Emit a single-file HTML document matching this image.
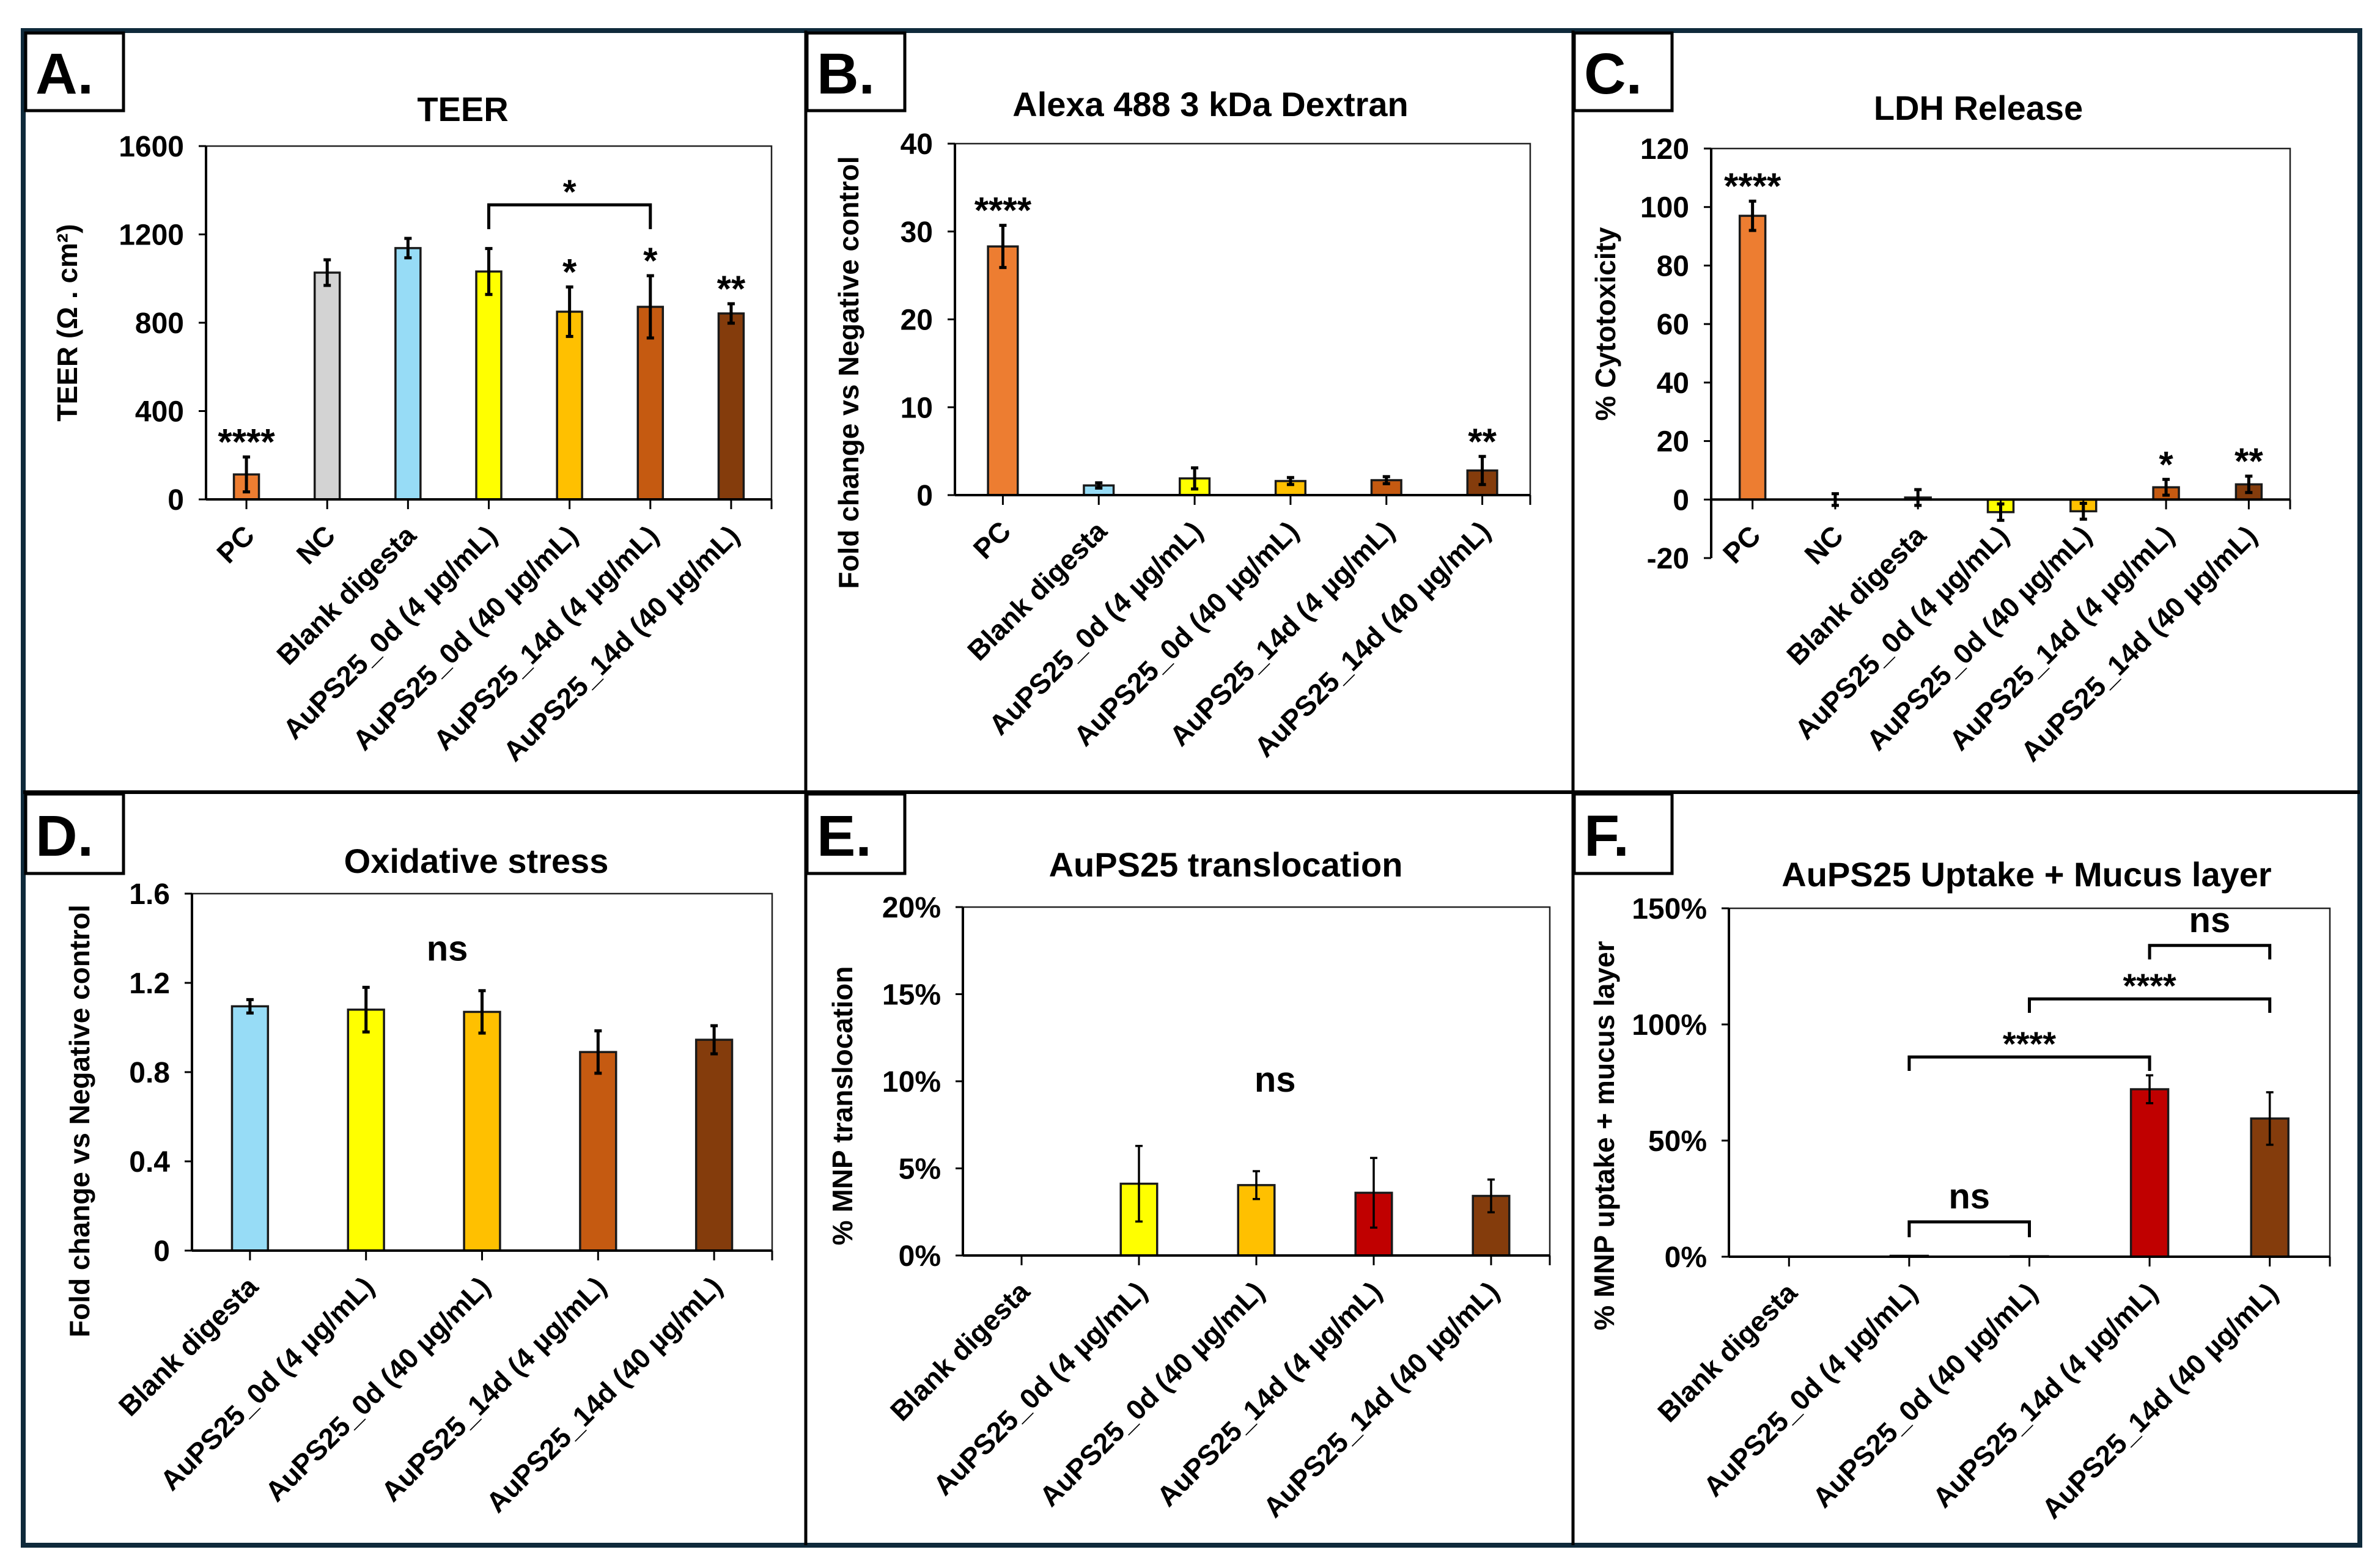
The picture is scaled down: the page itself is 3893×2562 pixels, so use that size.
<!DOCTYPE html>
<html><head><meta charset="utf-8"><title>Barrier integrity panels</title>
<style>
html,body{margin:0;padding:0;background:#fff;}
svg{display:block;font-family:"Liberation Sans",Arial,sans-serif;font-weight:bold;}
</style></head>
<body>
<svg id="fig" xmlns="http://www.w3.org/2000/svg" width="3893" height="2562" viewBox="0 0 3893 2562">
<rect x="0" y="0" width="3893" height="2562" fill="#fff"/>
<g>
<rect x="38" y="50" width="3822" height="2478" fill="none" stroke="#0f2a3b" stroke-width="8"/>
<line x1="1318" y1="50" x2="1318" y2="2528" stroke="#000" stroke-width="5"/>
<line x1="2573" y1="50" x2="2573" y2="2528" stroke="#000" stroke-width="5"/>
<line x1="38" y1="1296" x2="3860" y2="1296" stroke="#000" stroke-width="6"/>
</g>
<g font-size="95">
<g><rect x="42" y="54" width="160" height="127" fill="#fff" stroke="#000" stroke-width="5"/><text x="58" y="153">A.</text></g>
<g><rect x="1320" y="54" width="160" height="127" fill="#fff" stroke="#000" stroke-width="5"/><text x="1336" y="153">B.</text></g>
<g><rect x="2575" y="54" width="160" height="127" fill="#fff" stroke="#000" stroke-width="5"/><text x="2591" y="153">C.</text></g>
<g><rect x="42" y="1299" width="160" height="130" fill="#fff" stroke="#000" stroke-width="5"/><text x="58" y="1400">D.</text></g>
<g><rect x="1320" y="1299" width="160" height="130" fill="#fff" stroke="#000" stroke-width="5"/><text x="1336" y="1400">E.</text></g>
<g><rect x="2575" y="1299" width="160" height="130" fill="#fff" stroke="#000" stroke-width="5"/><text x="2591" y="1400">F.</text></g>
</g>
</svg>
<script>
// ---------- Panel A: TEER ----------
const A_categories = ['PC','NC','Blank digesta','AuPS25_0d (4 µg/mL)','AuPS25_0d (40 µg/mL)','AuPS25_14d (4 µg/mL)','AuPS25_14d (40 µg/mL)'];
const A_values = [113,1027,1138,1032,850,872,842];
const A_errors = [79,58,44,104,112,141,44];
const A_stars = ['****','','','','*','*','**'];
const A_ticks = [0,400,800,1200,1600];
const A_tickLabels = ['0','400','800','1200','1600'];
const A_brackets = [[3,5,1334,1224,'*']];
// ---------- Panel B: Dextran ----------
const B_categories = ['PC','Blank digesta','AuPS25_0d (4 µg/mL)','AuPS25_0d (40 µg/mL)','AuPS25_14d (4 µg/mL)','AuPS25_14d (40 µg/mL)'];
const B_values = [28.3,1.1,1.9,1.6,1.7,2.8];
const B_errors = [2.4,0.3,1.2,0.4,0.4,1.6];
const B_stars = ['****','','','','','**'];
const B_ticks = [0,10,20,30,40];
const B_tickLabels = ['0','10','20','30','40'];
// ---------- Panel C: LDH ----------
const C_categories = ['PC','NC','Blank digesta','AuPS25_0d (4 µg/mL)','AuPS25_0d (40 µg/mL)','AuPS25_14d (4 µg/mL)','AuPS25_14d (40 µg/mL)'];
const C_values = [97,0,0.7,-4.3,-4,4.2,5.2];
const C_errors = [5,2,2.7,2.8,2.7,2.7,2.8];
const C_stars = ['****','','','','','*','**'];
const C_ticks = [-20,0,20,40,60,80,100,120];
const C_tickLabels = ['-20','0','20','40','60','80','100','120'];
// ---------- Panel D: Oxidative stress ----------
const D_categories = ['Blank digesta','AuPS25_0d (4 µg/mL)','AuPS25_0d (40 µg/mL)','AuPS25_14d (4 µg/mL)','AuPS25_14d (40 µg/mL)'];
const D_values = [1.095,1.08,1.07,0.89,0.945];
const D_errors = [0.03,0.1,0.095,0.095,0.063];
const D_ticks = [0,0.4,0.8,1.2,1.6];
const D_tickLabels = ['0','0.4','0.8','1.2','1.6'];
// ---------- Panel E: translocation ----------
const E_categories = ['Blank digesta','AuPS25_0d (4 µg/mL)','AuPS25_0d (40 µg/mL)','AuPS25_14d (4 µg/mL)','AuPS25_14d (40 µg/mL)'];
const E_values = [0,4.12,4.04,3.6,3.42];
const E_errors = [0,2.17,0.8,2.0,0.94];
const E_ticks = [0,5,10,15,20];
const E_tickLabels = ['0%','5%','10%','15%','20%'];
// ---------- Panel F: uptake ----------
const F_categories = ['Blank digesta','AuPS25_0d (4 µg/mL)','AuPS25_0d (40 µg/mL)','AuPS25_14d (4 µg/mL)','AuPS25_14d (40 µg/mL)'];
const F_values = [0,0.4,0.2,72.1,59.5];
const F_errors = [0,0,0,6,11.3];
const F_ticks = [0,50,100,150];
const F_tickLabels = ['0%','50%','100%','150%'];
const F_brackets = [[1,2,15,8.4,'ns'],[1,3,86,80,'****'],[2,4,111,105,'****'],[3,4,134,128,'ns']];

const NS='http://www.w3.org/2000/svg';
const svg=document.getElementById('fig');
function mk(tag,attrs,parent){const e=document.createElementNS(NS,tag);for(const k in attrs)e.setAttribute(k,attrs[k]);parent.appendChild(e);return e;}

function drawChart(c){
  const g=mk('g',{},svg);
  
  
  const n=c.cats.length, bw=(c.x1-c.x0)/n;
  const xs=i=>c.x0+(i+0.5)*bw;
  const ys=v=>c.yb+(v-c.ymin)/(c.ymax-c.ymin)*(c.yt-c.yb);
  const y0=ys(0);
  const t=mk('text',{x:c.titleX,y:c.titleY,'text-anchor':'middle','font-size':c.titleSize||56},g);
  t.textContent=c.title;
  
  
  const yt=mk('text',{transform:`translate(${c.ytX},${(c.yt+c.yb)/2+(c.ytDy||0)}) rotate(-90)`,'text-anchor':'middle','font-size':c.ytSize||46},g);
  yt.textContent=c.ytitle;
  
  
  const fr=mk('polyline',{points:`${c.x0},${c.yt} ${c.x1},${c.yt} ${c.x1},${y0+14}`,fill:'none',stroke:'#222','stroke-width':2.5},g);
  
  
  const ya=mk('line',{x1:c.x0,y1:c.yt,x2:c.x0,y2:ys(c.ymin),stroke:'#000','stroke-width':4},g);
  
  
  c.ticks.forEach((tv,i)=>{
    const y=ys(tv);
    const tk=mk('line',{x1:c.x0-12,y1:y,x2:c.x0,y2:y,stroke:'#000','stroke-width':3},g);
    
    
    const tl=mk('text',{x:c.x0-36,y:y+17,'text-anchor':'end','font-size':48},g);
    tl.textContent=c.tickLabels[i];
    
    
  });
  c.vals.forEach((v,i)=>{
    const x=xs(i), w=bw*0.31;
    if(Math.abs(ys(v)-y0)>0.5){
      const r=mk('rect',{x:x-w/2,y:Math.min(ys(v),y0),width:w,height:Math.abs(ys(v)-y0),fill:c.colors[i],stroke:'#1a1a1a','stroke-width':3.5},g);
      
      
    }
    const e=c.errs[i];
    if(e>0){
      const eg=mk('g',{stroke:'#000','stroke-width':c.ew||5},g);
      
      
      mk('line',{x1:x,y1:ys(v-e),x2:x,y2:ys(v+e)},eg);
      mk('line',{x1:x-6,y1:ys(v-e),x2:x+6,y2:ys(v-e)},eg);
      mk('line',{x1:x-6,y1:ys(v+e),x2:x+6,y2:ys(v+e)},eg);
    }
    if(c.stars && c.stars[i]){
      const s=mk('text',{x:x,y:ys(v+e)-4,'text-anchor':'middle','font-size':60},g);
      s.textContent=c.stars[i];
      
      
    }
  });
  const xa=mk('line',{x1:c.x0,y1:y0,x2:c.x1,y2:y0,stroke:'#000','stroke-width':4},g);
  
  
  for(let i=0;i<=n;i++){
    const xx=i<n?xs(i):c.x1;
    const tk=mk('line',{x1:xx,y1:y0,x2:xx,y2:y0+16,stroke:'#000','stroke-width':3},g);
    
    
  }
  c.cats.forEach((cat,i)=>{
    const lx=xs(i)+16, ly=y0+62;
    const tl=mk('text',{transform:`translate(${lx},${ly}) rotate(-45)`,'text-anchor':'end','font-size':46},g);
    tl.textContent=cat;
    
    
  });
  (c.brackets||[]).forEach(b=>{
    const xa1=xs(b[0]), xb1=xs(b[1]), yt2=ys(b[2]), yl=ys(b[3]);
    const p=mk('polyline',{points:`${xa1},${yl} ${xa1},${yt2} ${xb1},${yt2} ${xb1},${yl}`,fill:'none',stroke:'#000','stroke-width':5},g);
    
    
    const tx=mk('text',{x:(xa1+xb1)/2,y:yt2-(b[4]==='ns'?22:2),'text-anchor':'middle','font-size':b[4]==='ns'?58:56},g);
    tx.textContent=b[4];
    
    
  });
  (c.notes||[]).forEach(nt=>{
    const tx=mk('text',{x:xs(nt[0]),y:ys(nt[1]),'text-anchor':'middle','font-size':58},g);
    tx.textContent=nt[2];
    
    
  });
}
const ORG='#ED7D31',GRY='#D3D3D3',BLU='#97DCF6',YEL='#FFFF00',AMB='#FFC000',RST='#C55A11',BRN='#843C0C',RED='#C00000';
drawChart({name:'chart-teer',title:'TEER',titleX:757,titleY:198,ytitle:'TEER (Ω . cm²)',ytX:126,
  x0:337,x1:1262,yb:817,yt:239,ymin:0,ymax:1600,cats:A_categories,vals:A_values,errs:A_errors,stars:A_stars,
  ticks:A_ticks,tickLabels:A_tickLabels,brackets:A_brackets,colors:[ORG,GRY,BLU,YEL,AMB,RST,BRN]});
drawChart({name:'chart-dextran',title:'Alexa 488 3 kDa Dextran',titleX:1980,titleY:190,ytitle:'Fold change vs Negative control',ytX:1404,ytDy:87,
  x0:1562,x1:2503,yb:810,yt:235,ymin:0,ymax:40,cats:B_categories,vals:B_values,errs:B_errors,stars:B_stars,
  ticks:B_ticks,tickLabels:B_tickLabels,colors:[ORG,BLU,YEL,AMB,RST,BRN]});
drawChart({name:'chart-ldh',title:'LDH Release',titleX:3236,titleY:196,ytitle:'% Cytotoxicity',ytX:2642,ytDy:-48,
  x0:2799,x1:3746,yb:913,yt:243,ymin:-20,ymax:120,cats:C_categories,vals:C_values,errs:C_errors,stars:C_stars,
  ticks:C_ticks,tickLabels:C_tickLabels,colors:[ORG,GRY,BLU,YEL,AMB,RST,BRN]});
drawChart({name:'chart-oxidative',title:'Oxidative stress',titleX:779,titleY:1428,ytitle:'Fold change vs Negative control',ytX:146,ytDy:80,
  x0:314,x1:1263,yb:2046,yt:1462,ymin:0,ymax:1.6,cats:D_categories,vals:D_values,errs:D_errors,
  ticks:D_ticks,tickLabels:D_tickLabels,colors:[BLU,YEL,AMB,RST,BRN],notes:[[1.7,1.3,'ns']]});
drawChart({name:'chart-translocation',title:'AuPS25 translocation',titleX:2005,titleY:1434,ytitle:'% MNP translocation',ytX:1394,ytDy:40,
  x0:1575,x1:2535,yb:2054,yt:1484,ymin:0,ymax:20,cats:E_categories,vals:E_values,errs:E_errors,ew:3.5,
  ticks:E_ticks,tickLabels:E_tickLabels,colors:['#fff',YEL,AMB,RED,BRN],notes:[[2.16,9.4,'ns']]});
drawChart({name:'chart-uptake',title:'AuPS25 Uptake + Mucus layer',titleX:3315,titleY:1450,ytitle:'% MNP uptake + mucus layer',ytX:2640,ytDy:87,
  x0:2828,x1:3811,yb:2056,yt:1486,ymin:0,ymax:150,cats:F_categories,vals:F_values,errs:F_errors,ew:3.5,
  ticks:F_ticks,tickLabels:F_tickLabels,brackets:F_brackets,colors:['#fff',YEL,AMB,RED,BRN]});
</script>
</body></html>
